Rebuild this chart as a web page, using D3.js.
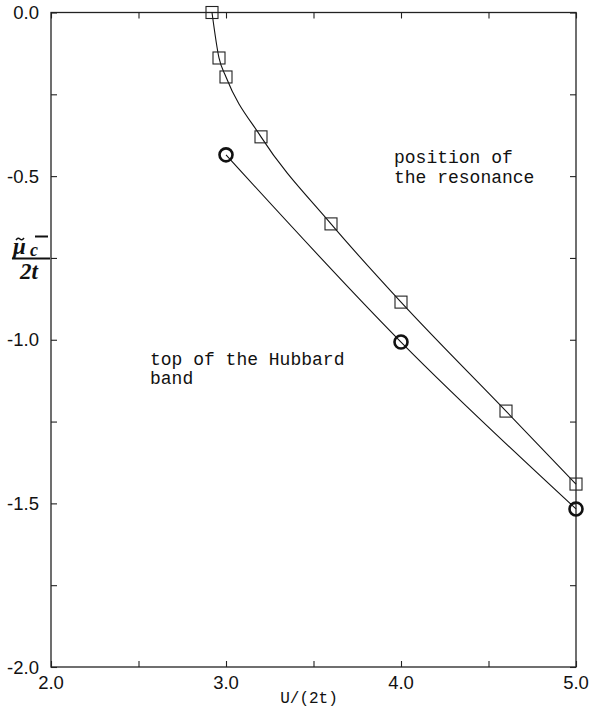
<!DOCTYPE html>
<html>
<head>
<meta charset="utf-8">
<script src="https://cdn.jsdelivr.net/npm/d3@7"></script>
<style>
  body { margin: 0; background: #fff; }
  svg text { fill: #111; }
</style>
</head>
<body>
<div id="chart"></div>
<script>
// resonance position (squares)
const resU = [2.92, 2.96, 3.0, 3.2, 3.6, 4.0, 4.6, 5.0];
const resMu = [0.0, -0.139, -0.197, -0.38, -0.646, -0.885, -1.218, -1.441];
// top of the Hubbard band (circles)
const hubU = [3.0, 4.0, 5.0];
const hubMu = [-0.435, -1.007, -1.517];

const xTickValues = [2.0, 3.0, 4.0, 5.0];
const xTickLabels = ["2.0", "3.0", "4.0", "5.0"];
const yTickValues = [0.0, -0.5, -1.0, -1.5, -2.0];
const yTickLabels = ["0.0", "-0.5", "-1.0", "-1.5", "-2.0"];

const w = 590; // canvas width
const h = 711; // canvas height

const x = d3.scaleLinear().domain([2, 5]).range([51, 576]);
const y = d3.scaleLinear().domain([0, -2]).range([12.5, 667]);

const svg = d3.select("#chart")
    .append("svg")
    .attr("width", w)
    .attr("height", h);

const axisColor = "#222";

// frame
svg.append("rect")
    .attr("x", x(2))
    .attr("y", y(0))
    .attr("width", x(5) - x(2))
    .attr("height", y(-2) - y(0))
    .attr("fill", "none")
    .attr("stroke", axisColor)
    .attr("stroke-width", 1.3);

// inward ticks on every side
const tickLen = 6;
const xt = d3.range(2, 5.001, 0.5);
const yt = d3.range(0, -2.001, -0.25);

svg.append("g").attr("transform", `translate(0,${y(-2)})`)
    .call(d3.axisTop(x).tickValues(xt).tickSize(tickLen).tickFormat(""))
    .call(g => g.select(".domain").remove());
svg.append("g").attr("transform", `translate(0,${y(0)})`)
    .call(d3.axisBottom(x).tickValues(xt).tickSize(tickLen).tickFormat(""))
    .call(g => g.select(".domain").remove());
svg.append("g").attr("transform", `translate(${x(2)},0)`)
    .call(d3.axisRight(y).tickValues(yt).tickSize(tickLen).tickFormat(""))
    .call(g => g.select(".domain").remove());
svg.append("g").attr("transform", `translate(${x(5)},0)`)
    .call(d3.axisLeft(y).tickValues(yt).tickSize(tickLen).tickFormat(""))
    .call(g => g.select(".domain").remove());

svg.selectAll(".tick line").attr("stroke", axisColor).attr("stroke-width", 1.1);

// tick labels
svg.selectAll(".xlab")
    .data(xTickValues)
    .enter().append("text")
    .attr("class", "xlab")
    .attr("x", d => x(d))
    .attr("y", 689)
    .attr("text-anchor", "middle")
    .style("font", "18.5px 'Liberation Sans', Arial, sans-serif")
    .text((d, i) => xTickLabels[i]);

svg.selectAll(".ylab")
    .data(yTickValues)
    .enter().append("text")
    .attr("class", "ylab")
    .attr("x", 39)
    .attr("y", d => y(d) + 6.5)
    .attr("text-anchor", "end")
    .style("font", "18.5px 'Liberation Sans', Arial, sans-serif")
    .text((d, i) => yTickLabels[i]);

// axis titles
svg.append("text")
    .attr("x", 309)
    .attr("y", 703)
    .attr("text-anchor", "middle")
    .style("font", "16px 'Courier New', 'Liberation Mono', monospace")
    .text("U/(2t)");

const ylab = svg.append("g").style("font-family", "'Liberation Serif', 'DejaVu Serif', serif")
    .style("font-weight", "bold").style("font-style", "italic");
ylab.append("text").attr("x", 13).attr("y", 254).style("font-size", "23px").text("μ");
// tilde over mu
ylab.append("path").attr("d", "M16,240 q2,-3 4,-1 q2,2 4,-1")
    .attr("fill", "none").attr("stroke", "#111").attr("stroke-width", 1.4);
ylab.append("text").attr("x", 30).attr("y", 256).style("font-size", "18px").text("c");
ylab.append("line").attr("x1", 35).attr("x2", 48).attr("y1", 236.5).attr("y2", 236.5)
    .attr("stroke", "#111").attr("stroke-width", 2);
ylab.append("line").attr("x1", 12).attr("x2", 50).attr("y1", 258.5).attr("y2", 258.5)
    .attr("stroke", "#111").attr("stroke-width", 2);
ylab.append("text").attr("x", 20).attr("y", 279).style("font-size", "23px").text("2t");

// curves
const line = d3.line()
    .x(d => x(d[0]))
    .y(d => y(d[1]))
    .curve(d3.curveMonotoneX);

const resData = resU.map((u, i) => [u, resMu[i]]);
const hubData = hubU.map((u, i) => [u, hubMu[i]]);

svg.append("path")
    .datum(resData)
    .attr("d", line)
    .attr("fill", "none")
    .attr("stroke", "#111")
    .attr("stroke-width", 1.1);

svg.append("path")
    .datum(hubData)
    .attr("d", line.curve(d3.curveNatural))
    .attr("fill", "none")
    .attr("stroke", "#111")
    .attr("stroke-width", 1.1);

// markers
const sq = 12;
svg.selectAll(".sq")
    .data(resData)
    .enter().append("rect")
    .attr("class", "sq")
    .attr("x", d => x(d[0]) - sq / 2)
    .attr("y", d => y(d[1]) - sq / 2)
    .attr("width", sq)
    .attr("height", sq)
    .attr("fill", "none")
    .attr("stroke", "#222")
    .attr("stroke-width", 1.1);

svg.selectAll(".circ")
    .data(hubData)
    .enter().append("circle")
    .attr("class", "circ")
    .attr("cx", d => x(d[0]))
    .attr("cy", d => y(d[1]))
    .attr("r", 6.5)
    .attr("fill", "none")
    .attr("stroke", "#111")
    .attr("stroke-width", 2.6);

// annotations
const mono = "18px 'Courier New', 'Liberation Mono', monospace";
svg.append("text").attr("x", 394).attr("y", 163).style("font", mono).text("position of");
svg.append("text").attr("x", 394).attr("y", 183).style("font", mono).text("the resonance");
svg.append("text").attr("x", 150).attr("y", 365).style("font", mono).text("top of the Hubbard");
svg.append("text").attr("x", 150).attr("y", 384).style("font", mono).text("band");
</script>
</body>
</html>
